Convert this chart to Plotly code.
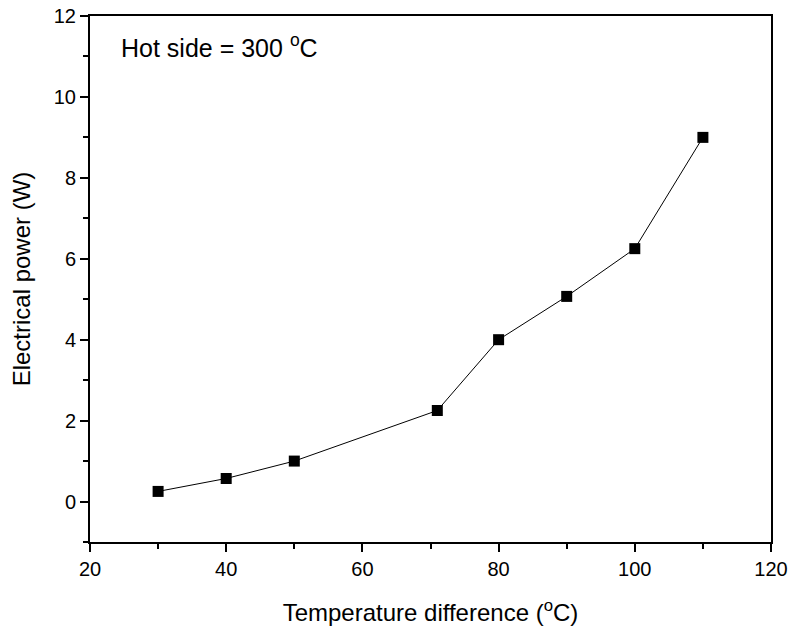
import plotly.graph_objects as go

temp_diff = [30, 40, 50, 71, 80, 90, 100, 110]
power_w = [0.25, 0.57, 1.0, 2.25, 4.0, 5.07, 6.25, 9.0]

FONT = "Arial, Liberation Sans, sans-serif"

fig = go.Figure()
fig.add_trace(go.Scatter(
    x=temp_diff, y=power_w, mode="lines+markers",
    line=dict(color="black", width=1),
    marker=dict(symbol="square", size=11, color="black"),
    showlegend=False,
))

axis_common = dict(
    showline=True, linecolor="black", linewidth=2, mirror=True,
    ticks="outside", ticklen=8, tickwidth=2, tickcolor="black",
    showgrid=False, zeroline=False, automargin=False,
    ticklabeloverflow="allow",
    tickfont=dict(family=FONT, size=20, color="black"),
)

fig.update_xaxes(
    range=[20, 120], tick0=20, dtick=20,
    minor=dict(ticks="outside", ticklen=5, tickwidth=2, tickcolor="black", dtick=10),
    title=dict(text="Temperature difference (<sup>o</sup>C)",
               font=dict(family=FONT, size=24, color="black"), standoff=25),
    **axis_common,
)
fig.update_yaxes(
    range=[-1, 12], tick0=0, dtick=2,
    minor=dict(ticks="outside", ticklen=5, tickwidth=2, tickcolor="black", dtick=1, tick0=1),
    title=dict(text="Electrical power (W)",
               font=dict(family=FONT, size=24, color="black"), standoff=16),
    **axis_common,
)

fig.add_annotation(
    x=0.042, y=0.977, xref="paper", yref="paper", xanchor="left", yanchor="top",
    text="Hot side = 300 <sup>o</sup>C", showarrow=False,
    font=dict(family=FONT, size=25, color="black"),
)

fig.update_layout(
    width=791, height=630,
    margin=dict(l=90, r=20, t=16, b=88),
    paper_bgcolor="white", plot_bgcolor="white",
)

fig.write_html(
    "out.html",
    config={"displayModeBar": False},
    post_script="document.body.style.margin='0';document.body.style.overflow='hidden';",
)
